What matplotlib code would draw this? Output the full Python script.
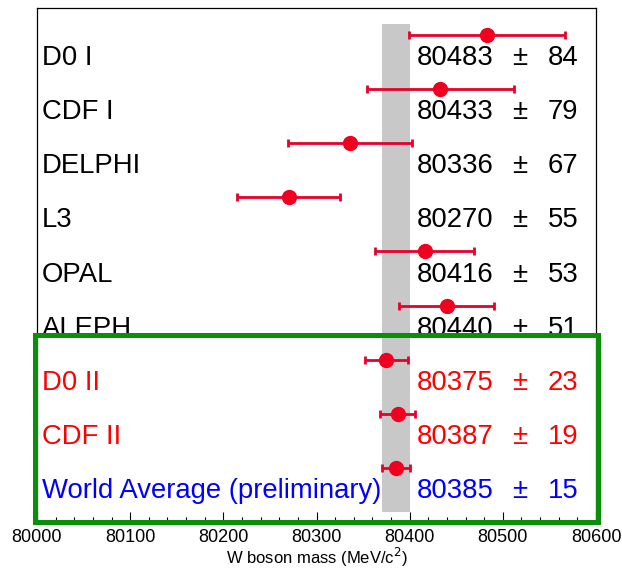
import matplotlib
matplotlib.use("Agg")
import matplotlib.pyplot as plt
from matplotlib.patches import Rectangle
from matplotlib.ticker import MultipleLocator

labels = ["D0 I", "CDF I", "DELPHI", "L3", "OPAL", "ALEPH", "D0 II", "CDF II", "World Average (preliminary)"]
values = [80483, 80433, 80336, 80270, 80416, 80440, 80375, 80387, 80385]
errors = [84, 79, 67, 55, 53, 51, 23, 19, 15]
text_colors = ["black"] * 6 + ["#ff0000", "#ff0000", "#0000ff"]
band_lo, band_hi = 80370, 80400

plt.rcParams['font.family'] = ['Liberation Sans', 'DejaVu Sans']

fig = plt.figure(figsize=(6.22, 5.68), dpi=100)
ax = fig.add_axes([37/622, 1 - 522/568, (596-37)/622, (522-8)/568])

n = len(labels)
ys = [n - i for i in range(n)]

ax.axvspan(band_lo, band_hi, ymin=0.18/9.5, ymax=9.2/9.5, color="#c8c8c8", zorder=1, lw=0)

for y, v, e, lab, c in zip(ys, values, errors, labels, text_colors):
    ax.errorbar(v, y, xerr=e, fmt='o', color='#f00020', ecolor='#e8002a', elinewidth=2,
                capsize=3, capthick=2, markersize=10, zorder=3)
    ty = y - 0.555
    kw = dict(color=c, fontsize=19.8, va='baseline', zorder=4)
    ax.text(80005, ty, lab, ha='left', **kw)
    ax.text(80408, ty, str(v), ha='left', **kw)
    ax.text(80518, ty, "±", ha='center', **kw)
    ax.text(80581, ty, str(e), ha='right', **kw)

ax.set_xlim(80000, 80600)
ax.set_ylim(0, 9.5)
ax.set_yticks([])
ax.xaxis.set_major_locator(MultipleLocator(100))
ax.xaxis.set_minor_locator(MultipleLocator(20))
ax.tick_params(axis='x', which='major', direction='in', length=7, width=0.8, labelsize=13, pad=5)
ax.tick_params(axis='x', which='minor', direction='in', length=3.5, width=0.8)
ax.set_xlabel("W boson mass (MeV/c$^2$)", fontsize=12, labelpad=0)
for s in ax.spines.values():
    s.set_linewidth(0.9)

rect = Rectangle((-0.003, 0.0), 1.006, 3.46/9.5, transform=ax.transAxes, fill=False,
                 edgecolor='#0b8f0b', linewidth=3.6, clip_on=False, zorder=5)
ax.add_patch(rect)

fig.savefig("out.png", dpi=100)
